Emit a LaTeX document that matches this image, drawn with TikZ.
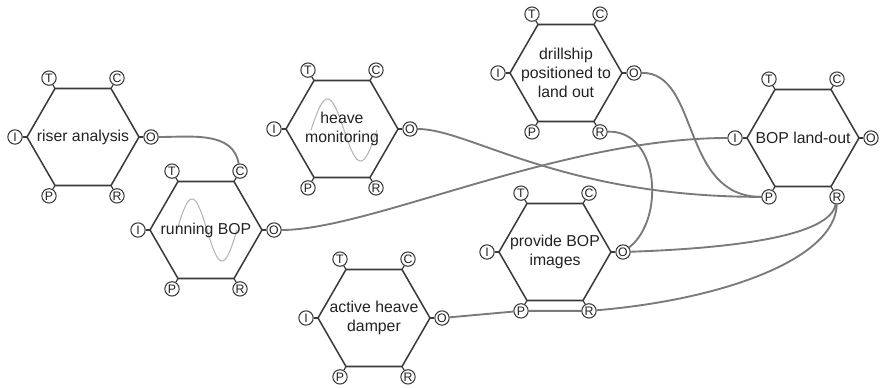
\documentclass[tikz,border=0pt]{standalone}
\usepackage{fontspec}
\setmainfont{Liberation Sans}
\usetikzlibrary{calc,backgrounds,shapes.geometric}
\definecolor{FramEdge}{HTML}{3A3A3A}
\definecolor{FramWire}{HTML}{7A7A7A}
\definecolor{FramWave}{HTML}{B4B4B4}
\definecolor{FramText}{HTML}{222222}

% one FRAM function: hexagon, label and the six aspects
\newcommand\framfn[3]{%
  \node[fnhex] (#1) at (#2) {};
  \node[fnlabel] (#1-txt) at (#1.center) {#3};
  \foreach \asp/\ang in {O/0,C/60,T/120,I/180,P/240,R/300}{
    \node[aspect] (#1-\asp) at ($(#1.center)+(\ang:68)$) {\asp};
    \draw[stub] (#1.\ang) -- (#1-\asp);
  }%
}

\begin{document}
\begin{tikzpicture}[x=0.03cm,y=0.03cm]
  \tikzstyle{fnhex}=[regular polygon, regular polygon sides=6, minimum size=3.36cm, inner sep=0pt, outer sep=0pt, draw=FramEdge, line width=1.3pt]
  \tikzstyle{fnlabel}=[align=center, text=FramText, inner sep=0pt, font=\fontsize{13.5}{16.5}\selectfont]
  \tikzstyle{aspect}=[circle, draw=FramEdge, line width=0.9pt, fill=white, minimum size=0.43cm, inner sep=0pt, text=FramText, font=\fontsize{10.5}{10.5}\selectfont]
  \tikzstyle{stub}=[draw=FramEdge, line width=1pt]
  \tikzstyle{link}=[draw=FramWire, line width=1.6pt]
  \tikzstyle{wave}=[draw=FramWave, line width=0.9pt]
  \useasboundingbox (0,0) rectangle (883,388);

  \framfn{ra}{83,251}{riser analysis}
  \framfn{rb}{206,158}{running BOP}
  \framfn{hm}{342,259}{heave\\monitoring}
  \framfn{ds}{566,315}{drillship\\positioned to\\land out}
  \framfn{bl}{803,250}{BOP land-out}
  \framfn{pb}{555,136}{provide BOP\\images}
  \framfn{ah}{374,70}{active heave\\damper}

  \begin{scope}[on background layer]
    \draw[wave] plot[domain=0:360, samples=60] ({177+\x/6}, {158+31*sin(\x)});
    \draw[wave] plot[domain=0:360, samples=60] ({311+\x/360*66}, {258+31*sin(\x)});

    \draw[link] (ra-O) to[out=0,in=100] (rb-C);
    \draw[link] (hm-O) .. controls (470,259) and (560,191) .. (bl-P);
    \draw[link] (ds-O) .. controls (700,316) and (680,191) .. (bl-P);
    \draw[link] (ds-R) .. controls (660,258) and (665,168) .. (pb-O);
    \draw[link] (rb-O) .. controls (370,158) and (560,250) .. (bl-I);
    \draw[link] (pb-O) .. controls (740,140) and (830,153) .. (bl-R);
    \draw[link] (ah-O) -- (pb-P) -- (pb-R) .. controls (720,88) and (835,128) .. (bl-R);
  \end{scope}
\end{tikzpicture}
\end{document}
